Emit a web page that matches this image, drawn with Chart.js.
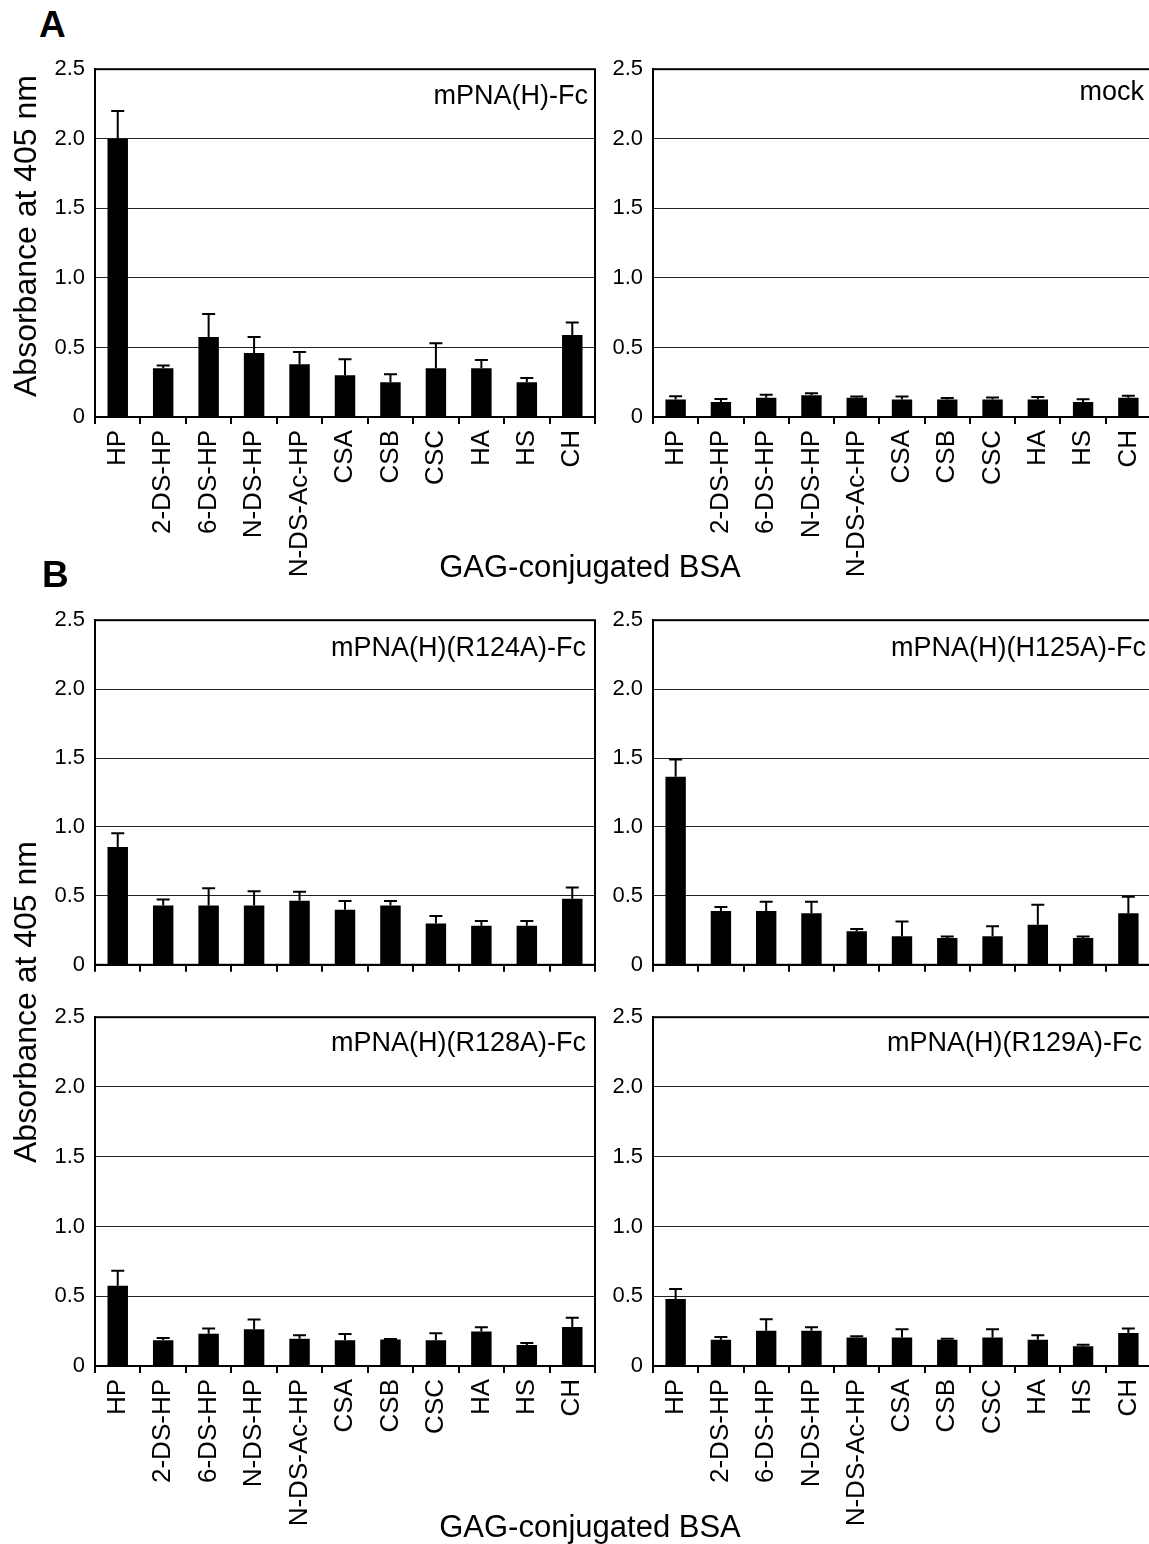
<!DOCTYPE html>
<html><head><meta charset="utf-8">
<script src="https://cdn.jsdelivr.net/npm/chart.js@4.4.0/dist/chart.umd.min.js"></script>
<style>
html,body{margin:0;padding:0;background:#fff;width:1149px;height:1544px;overflow:hidden;position:relative;font-family:"Liberation Sans",Arial,sans-serif;color:#000}
canvas{position:absolute}
.t{position:absolute;white-space:nowrap;line-height:1}
</style></head><body>
<script>
// ---------- data ----------
const categories = ['HP','2-DS-HP','6-DS-HP','N-DS-HP','N-DS-Ac-HP','CSA','CSB','CSC','HA','HS','CH'];
const yTickLabels = ['0','0.5','1.0','1.5','2.0','2.5'];

const wtMean    = [2.00, 0.35, 0.575, 0.46, 0.38, 0.30, 0.25, 0.35, 0.35, 0.25, 0.59];
const wtSD      = [0.20, 0.02, 0.165, 0.115, 0.087, 0.115, 0.057, 0.18, 0.06, 0.03, 0.09];
const mockMean  = [0.125, 0.108, 0.139, 0.156, 0.139, 0.125, 0.125, 0.125, 0.125, 0.108, 0.139];
const mockSD    = [0.025, 0.022, 0.021, 0.014, 0.009, 0.023, 0.012, 0.016, 0.019, 0.019, 0.014];
const r124aMean = [0.855, 0.43, 0.43, 0.43, 0.465, 0.40, 0.43, 0.30, 0.283, 0.283, 0.48];
const r124aSD   = [0.10, 0.044, 0.126, 0.104, 0.065, 0.062, 0.032, 0.054, 0.035, 0.035, 0.08];
const h125aMean = [1.365, 0.39, 0.39, 0.374, 0.244, 0.208, 0.194, 0.208, 0.29, 0.194, 0.374];
const h125aSD   = [0.125, 0.03, 0.067, 0.083, 0.015, 0.106, 0.012, 0.072, 0.146, 0.012, 0.119];
const r128aMean = [0.575, 0.184, 0.232, 0.263, 0.196, 0.184, 0.19, 0.184, 0.247, 0.15, 0.28];
const r128aSD   = [0.108, 0.016, 0.036, 0.07, 0.024, 0.046, 0.004, 0.051, 0.031, 0.015, 0.065];
const r129aMean = [0.48, 0.189, 0.253, 0.253, 0.205, 0.205, 0.189, 0.205, 0.189, 0.141, 0.237];
const r129aSD   = [0.072, 0.019, 0.082, 0.024, 0.008, 0.058, 0.007, 0.058, 0.031, 0.012, 0.031];

const panelTitles = ['mPNA(H)-Fc','mock','mPNA(H)(R124A)-Fc','mPNA(H)(H125A)-Fc','mPNA(H)(R128A)-Fc','mPNA(H)(R129A)-Fc'];
const yTitle = 'Absorbance at 405 nm';
const xTitle = 'GAG-conjugated BSA';

// ---------- layout ----------
const PAD_TOP = 20, PAD_R = 5;
const layout = [
  {plot:[95,66,595,417],   yW:95, labels:true,  tRight:588,  tBase:105, mean:wtMean,    sd:wtSD},
  {plot:[653,66,1151,417], yW:53, labels:true,  tRight:1144, tBase:101, mean:mockMean,  sd:mockSD},
  {plot:[95,617,595,968],  yW:95, labels:false, tRight:586,  tBase:657, mean:r124aMean, sd:r124aSD},
  {plot:[653,617,1151,968],yW:53, labels:false, tRight:1146, tBase:657, mean:h125aMean, sd:h125aSD},
  {plot:[95,1014,595,1366],yW:95, labels:true,  tRight:586,  tBase:1052,mean:r128aMean, sd:r128aSD},
  {plot:[653,1014,1151,1366],yW:53,labels:true, tRight:1142, tBase:1052,mean:r129aMean, sd:r129aSD}
];

const errPlugin = {
  id: 'errAndBox',
  afterDatasetsDraw(chart) {
    const ctx = chart.ctx, y = chart.scales.y;
    const ds = chart.data.datasets[0];
    const meta = chart.getDatasetMeta(0);
    ctx.save();
    ctx.strokeStyle = '#000';
    ctx.lineWidth = 2;
    ds.data.forEach((v, i) => {
      const px = meta.data[i].x;
      const base = y.getPixelForValue(v);
      const top = y.getPixelForValue(v + ds.sd[i]);
      ctx.beginPath();
      ctx.moveTo(px, base); ctx.lineTo(px, top);
      ctx.moveTo(px - 6.5, top); ctx.lineTo(px + 6.5, top);
      ctx.stroke();
    });
    ctx.restore();
  },
  afterDraw(chart) {
    const a = chart.chartArea, ctx = chart.ctx;
    ctx.save();
    ctx.strokeStyle = '#000';
    ctx.lineWidth = 2;
    ctx.strokeRect(a.left, a.top, a.right - a.left, a.bottom - a.top);
    ctx.restore();
  }
};

function addText(txt, css) {
  const d = document.createElement('div');
  d.className = 't';
  d.textContent = txt;
  Object.assign(d.style, css);
  document.body.appendChild(d);
  return d;
}

layout.forEach((p, k) => {
  const [L, T, R, B] = p.plot;
  const xH = p.labels ? 180 : 20;
  const cv = document.createElement('canvas');
  const w = p.yW + (R - L) + PAD_R;
  const h = PAD_TOP + (B - T) + xH;
  cv.width = w; cv.height = h;
  cv.style.width = w + 'px'; cv.style.height = h + 'px';
  cv.style.left = (L - p.yW) + 'px';
  cv.style.top = (T - PAD_TOP) + 'px';
  document.body.appendChild(cv);

  new Chart(cv, {
    type: 'bar',
    data: {
      labels: categories,
      datasets: [{
        data: p.mean,
        sd: p.sd,
        backgroundColor: '#000',
        borderWidth: 0,
        barPercentage: 0.45,
        categoryPercentage: 1.0
      }]
    },
    options: {
      responsive: false,
      animation: false,
      devicePixelRatio: 1,
      layout: { padding: { top: PAD_TOP, right: PAD_R, left: 0, bottom: 0 } },
      plugins: { legend: { display: false }, tooltip: { enabled: false }, title: { display: false } },
      scales: {
        x: {
          type: 'category',
          offset: true,
          grid: { display: true, offset: true, drawOnChartArea: false, drawTicks: true, tickLength: 7, color: '#000', lineWidth: 2 },
          border: { display: true, color: '#000', width: 2 },
          ticks: {
            autoSkip: false, minRotation: 90, maxRotation: 90, padding: 6,
            color: '#000',
            font: { family: '"Liberation Sans", Arial, sans-serif', size: 26 },
            callback: (v, i) => p.labels ? categories[i] : ''
          },
          afterFit: s => { s.height = xH; s.paddingLeft = 0; s.paddingRight = 0; }
        },
        y: {
          min: 0, max: 2.5,
          grid: {
            drawTicks: false,
            lineWidth: 1,
            color: c => (c.tick && (c.tick.value === 0 || c.tick.value === 2.5)) ? 'rgba(0,0,0,0)' : '#222'
          },
          border: { display: true, color: '#000', width: 2 },
          ticks: {
            stepSize: 0.5, padding: 10, color: '#000',
            font: { family: '"Liberation Sans", Arial, sans-serif', size: 22 },
            callback: (v, i) => yTickLabels[i]
          },
          afterFit: s => { s.width = p.yW; }
        }
      }
    },
    plugins: [errPlugin]
  });

  const fs = 27;
  addText(panelTitles[k], { fontSize: fs + 'px', right: (1149 - p.tRight) + 'px', top: (p.tBase - 0.8465 * fs) + 'px' });
});

// panel letters
addText('A', { fontSize: '37px', fontWeight: 'bold', left: '39px', top: (37 - 0.8465 * 37) + 'px' });
addText('B', { fontSize: '37px', fontWeight: 'bold', left: '42px', top: (587 - 0.8465 * 37) + 'px' });

// x titles
[577, 1537].forEach(base => {
  const d = addText(xTitle, { fontSize: '31px', left: '590px', top: (base - 0.8465 * 31) + 'px' });
  d.style.transform = 'translateX(-50%)';
});

// y titles
[236, 1002].forEach(cy => {
  addText(yTitle, { fontSize: '32px', left: '25px', top: cy + 'px', transform: 'translate(-50%,-50%) rotate(-90deg)' });
});
</script>
</body></html>
